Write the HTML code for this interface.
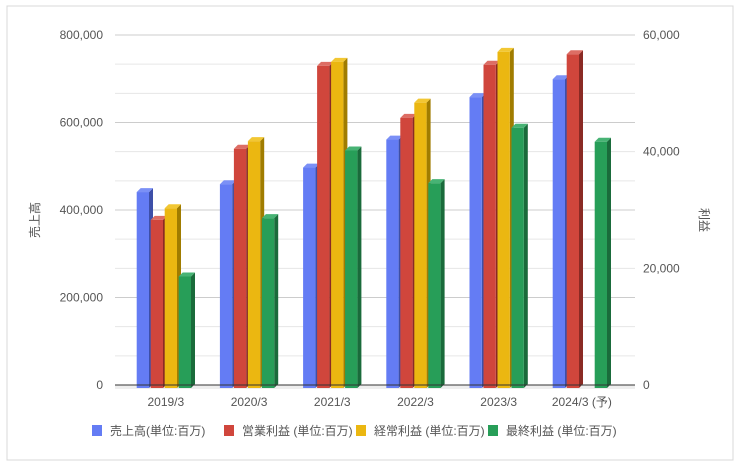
<!DOCTYPE html>
<html><head><meta charset="utf-8"><style>
body{margin:0;background:#fff}
svg text{font-family:"Liberation Sans","Noto Sans CJK JP",sans-serif;fill:#555}
</style></head><body>
<svg id="chart" width="740" height="466" viewBox="0 0 740 466" xmlns="http://www.w3.org/2000/svg">
<rect x="7" y="6" width="726" height="454" fill="#fff" stroke="#d8d8d8"/>
<g id="grid"></g>
<rect x="115" y="385" width="520" height="4" fill="#eee"/>
<g id="bars"></g>
<line x1="115" y1="385" x2="635" y2="385" stroke="#333"/>
<g id="labels"></g>
<text transform="translate(39,220) rotate(-90)" text-anchor="middle" font-size="12">売上高</text>
<text transform="translate(700,220) rotate(90)" text-anchor="middle" font-size="12">利益</text>
<g id="legend"></g>
</svg>
<script>
const categories=["2019/3","2020/3","2021/3","2022/3","2023/3","2024/3 (予)"];
const sales=[441000,459000,497000,561000,658000,699000];
const opProfit=[28300,40500,54700,45800,54900,56700];
const ordProfit=[30300,41800,55400,48400,57100,null];
const netProfit=[18600,28600,40200,34600,44100,41700];
const leftTicks=[0,200000,400000,600000,800000];
const rightTicks=[0,20000,40000,60000];
const seriesNames=["売上高(単位:百万)","営業利益 (単位:百万)","経常利益 (単位:百万)","最終利益 (単位:百万)"];
const NS="http://www.w3.org/2000/svg";
const Y0=385,H=350,X0=115,X1=635;
const yL=v=>Y0-v/800000*H, yR=v=>Y0-v/60000*H;
function mk(t,a,p){const e=document.createElementNS(NS,t);for(const k in a)e.setAttribute(k,a[k]);p.appendChild(e);return e;}
const grid=document.getElementById('grid');
for(let i=0;i<=12;i++){const y=Y0-i*H/12;
 const l=mk('line',{x1:X0,x2:X1,y1:y,y2:y,stroke:i%3==0?'#ccc':'#e6e6e6'},grid);
 
 }
const labels=document.getElementById('labels');
leftTicks.forEach(v=>{const t=mk('text',{x:103,y:yL(v)+4,'text-anchor':'end','font-size':12},labels);t.textContent=v.toLocaleString('en-US');
 
 });
rightTicks.forEach(v=>{const t=mk('text',{x:643,y:yR(v)+4,'font-size':12},labels);t.textContent=v.toLocaleString('en-US');
 
 });
const cols=[["#647cf4","#7b90f6","#3d4fa8"],["#d0463c","#dd6d64","#8a2a24"],["#ebb711","#f2c733","#a07c00"],["#279e58","#47b374","#1a6b3b"]];
const bars=document.getElementById('bars');
const gStart=136.7,gStep=83.2,bw=12.3,bs=14,d=4;
const series=[[sales,yL],[opProfit,yR],[ordProfit,yR],[netProfit,yR]];
categories.forEach((c,i)=>{
 const cx=gStart+i*gStep+(3*bs+bw+d)/2;
 const t=mk('text',{x:cx,y:406,'text-anchor':'middle','font-size':12},labels);t.textContent=c;
 
 
 series.forEach(([arr,sc],s)=>{const v=arr[i];if(v==null)return;
  const x=gStart+i*gStep+s*bs,y=sc(v),g=mk('g',{},bars);
  
  
  mk('polygon',{points:`${x+bw},${y} ${x+bw+d},${y-d} ${x+bw+d},${Y0-d+3} ${x+bw},${Y0+3}`,fill:cols[s][2]},g);
  mk('polygon',{points:`${x},${y} ${x+d},${y-d} ${x+bw+d},${y-d} ${x+bw},${y}`,fill:cols[s][1]},g);
  mk('rect',{x:x,y:y,width:bw,height:Y0+3-y,fill:cols[s][0]},g);
 });
});
const lg=document.getElementById('legend');
const lx=[92,224,356,488];
seriesNames.forEach((n,s)=>{const g=mk('g',{},lg);
 
 
 mk('rect',{x:lx[s],y:425,width:10,height:11,fill:cols[s][0]},g);
 const t=mk('text',{x:lx[s]+18,y:435,'font-size':12},g);t.textContent=n;});
</script>
</body></html>
